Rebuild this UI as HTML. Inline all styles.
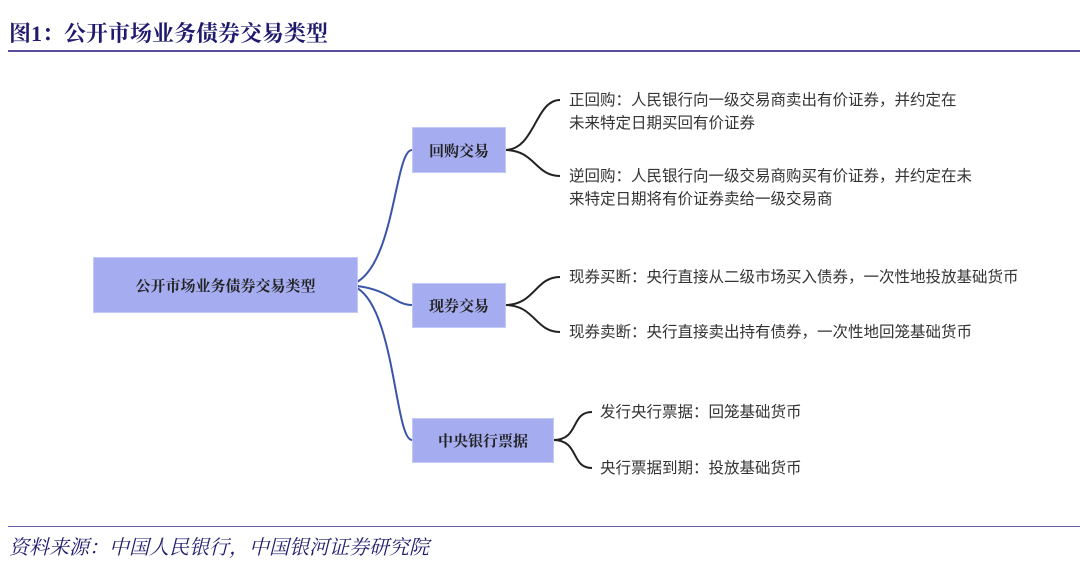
<!DOCTYPE html>
<html><head><meta charset="utf-8"><style>
body{margin:0;width:1080px;height:570px;background:#fff;position:relative;overflow:hidden;font-family:"Liberation Sans","Noto Sans CJK SC",sans-serif}
.t{position:absolute;white-space:nowrap}
.box{position:absolute;background:#a5adf0;border:1px solid #c4caf6;box-sizing:border-box;display:flex;align-items:center;justify-content:center;font-family:"Liberation Serif","Noto Serif CJK SC",serif;font-weight:bold;font-size:15px;color:#222}
.lf{font-size:15.5px;color:#333;line-height:23px}
</style></head><body>
<div class="t" style="left:9px;top:17px;font-size:22px;font-weight:bold;color:#1f1a6e;font-family:'Liberation Serif','Noto Serif CJK SC',serif">图1：公开市场业务债券交易类型</div>
<div style="position:absolute;left:8px;top:50px;width:1072px;height:2px;background:#5a4ea0"></div>
<svg style="position:absolute;left:0;top:0" width="1080" height="570">
<g fill="none" stroke="#3a55a8" stroke-width="2">
<path d="M357,282 C395,260 395,150 412,150"/>
<path d="M357,286 C390,290 395,305 412,305"/>
<path d="M357,288 C395,310 395,440 412,440"/>
</g>
<g fill="none" stroke="#222" stroke-width="2">
<path d="M505,150 C535,150 535,100 560,100"/>
<path d="M505,150 C535,150 535,176 560,176"/>
<path d="M505,305 C535,305 535,277 560,277"/>
<path d="M505,305 C535,305 535,332 560,332"/>
<path d="M553,440 C580,440 570,412 592,412"/>
<path d="M553,440 C580,440 570,468 592,468"/>
</g>
</svg>
<div class="box" style="left:93px;top:257px;width:265px;height:56px">公开市场业务债券交易类型</div>
<div class="box" style="left:412px;top:127px;width:94px;height:46px">回购交易</div>
<div class="box" style="left:412px;top:283px;width:94px;height:45px">现券交易</div>
<div class="box" style="left:412px;top:418px;width:142px;height:45px">中央银行票据</div>
<div class="t lf" style="left:569px;top:89px">正回购：人民银行向一级交易商卖出有价证券，并约定在<br>未来特定日期买回有价证券</div>
<div class="t lf" style="left:569px;top:165px">逆回购：人民银行向一级交易商购买有价证券，并约定在未<br>来特定日期将有价证券卖给一级交易商</div>
<div class="t lf" style="left:569px;top:266px">现券买断：央行直接从二级市场买入债券，一次性地投放基础货币</div>
<div class="t lf" style="left:569px;top:321px">现券卖断：央行直接卖出持有债券，一次性地回笼基础货币</div>
<div class="t lf" style="left:600px;top:401px">发行央行票据：回笼基础货币</div>
<div class="t lf" style="left:600px;top:457px">央行票据到期：投放基础货币</div>
<div style="position:absolute;left:8px;top:526px;width:1072px;height:1px;background:#6a5ea8"></div>
<div class="t" style="left:9px;top:531px;font-size:20px;font-style:italic;color:#1f1a6e;font-family:'Liberation Serif','Noto Serif CJK SC',serif">资料来源：中国人民银行，中国银河证券研究院</div>
</body></html>
